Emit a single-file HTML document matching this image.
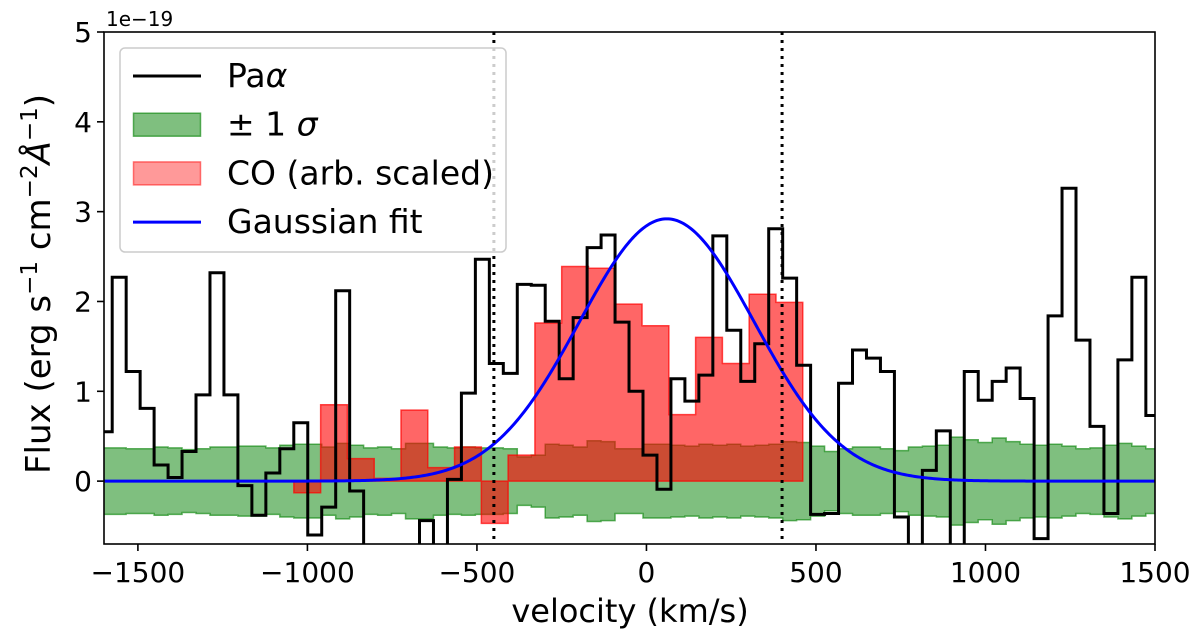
<!DOCTYPE html>
<html><head><meta charset="utf-8"><style>
html,body{margin:0;padding:0;background:#fff;}
svg{display:block;font-family:"DejaVu Sans","Liberation Sans",sans-serif;}
</style></head><body>
<svg id="chart" width="1200" height="644" viewBox="0 0 1200 644" xmlns="http://www.w3.org/2000/svg">
<defs><clipPath id="clip"><rect x="104" y="32" width="1051" height="512"/></clipPath></defs>
<g id="plot" clip-path="url(#clip)"></g>
<g id="axes"></g>
</svg>
<script>
// Data
const paBinStart = -1617;
const paBinWidth = 41.2;
const paValues = [0.55,2.27,1.22,0.81,0.18,0.04,0.33,0.96,2.32,0.96,-0.05,-0.38,0.09,0.36,0.65,-0.6,-0.29,2.12,-0.11,-0.9,-0.9,-0.9,-0.9,-0.44,-0.9,0.02,0.98,2.47,1.31,1.2,2.19,2.18,1.78,1.14,1.82,2.6,2.74,1.77,1.0,0.29,-0.09,1.14,0.89,1.18,2.73,1.68,1.11,1.53,2.81,2.26,1.29,-0.37,-0.36,1.09,1.46,1.37,1.22,-0.4,-0.9,0.12,0.56,-0.9,1.22,0.9,1.11,1.26,0.92,-0.64,1.84,3.26,1.57,0.61,-0.36,1.35,2.27,0.73];
const sigmaValues = [0.37,0.37,0.36,0.36,0.38,0.37,0.35,0.36,0.38,0.38,0.39,0.39,0.37,0.40,0.41,0.41,0.38,0.42,0.40,0.37,0.38,0.36,0.42,0.42,0.38,0.37,0.38,0.37,0.37,0.36,0.27,0.29,0.41,0.40,0.38,0.45,0.44,0.36,0.36,0.41,0.41,0.40,0.39,0.41,0.40,0.41,0.39,0.40,0.41,0.44,0.43,0.39,0.33,0.36,0.38,0.38,0.36,0.34,0.38,0.39,0.40,0.49,0.46,0.43,0.48,0.44,0.41,0.40,0.41,0.39,0.36,0.37,0.40,0.42,0.39,0.36];
const coBinStart = -1040;
const coBinWidth = 79;
const coValues = [-0.13,0.85,0.25,0.03,0.79,0.15,0.38,-0.47,0.29,1.76,2.39,2.37,1.97,1.73,0.74,1.6,1.31,2.08,1.99];
const gaussAmp = 2.92, gaussMu = 60, gaussSigma = 258;
const vLines = [-450, 400];
const xTicks = [-1500,-1000,-500,0,500,1000,1500];
const yTicks = [0,1,2,3,4,5];

const X0=104,X1=1155,Y0=544,Y1=32, XMIN=-1600,XMAX=1500,YMIN=-0.7,YMAX=5;
const xs=v=>X0+(v-XMIN)/(XMAX-XMIN)*(X1-X0);
const ys=v=>Y0-(v-YMIN)/(YMAX-YMIN)*(Y0-Y1);
const NS="http://www.w3.org/2000/svg";
function mk(tag,attrs,parent){const e=document.createElementNS(NS,tag);for(const k in attrs)e.setAttribute(k,attrs[k]);parent.appendChild(e);return e;}
const plot=document.getElementById('plot'), axes=document.getElementById('axes'), svg=document.getElementById('chart');

// sigma band
let up=[],lo=[];
sigmaValues.forEach((s,i)=>{const a=xs(paBinStart+i*paBinWidth),b=xs(paBinStart+(i+1)*paBinWidth);up.push(a+','+ys(s),b+','+ys(s));lo.unshift(b+','+ys(-s),a+','+ys(-s));});
const band=mk('polygon',{points:up.concat(lo).join(' '),fill:'rgba(0,128,0,0.5)',stroke:'rgba(0,128,0,0.6)','stroke-width':1.5},plot);



// CO histogram
let cp=[xs(coBinStart)+','+ys(0)];
coValues.forEach((v,i)=>{const a=xs(coBinStart+i*coBinWidth),b=xs(coBinStart+(i+1)*coBinWidth);cp.push(a+','+ys(v),b+','+ys(v));});
cp.push(xs(coBinStart+coValues.length*coBinWidth)+','+ys(0));
const co=mk('polygon',{points:cp.join(' '),fill:'rgba(255,0,0,0.6)',stroke:'rgba(255,0,0,0.7)','stroke-width':1.5},plot);



// Pa alpha step
let pp=[];
paValues.forEach((v,i)=>{const a=xs(paBinStart+i*paBinWidth),b=xs(paBinStart+(i+1)*paBinWidth);pp.push(a+','+ys(v),b+','+ys(v));});
const pa=mk('polyline',{points:pp.join(' '),fill:'none',stroke:'#000','stroke-width':3,'stroke-linejoin':'miter'},plot);



// gaussian
let gp=[];
for(let v=XMIN;v<=XMAX;v+=5){gp.push(xs(v)+','+ys(gaussAmp*Math.exp(-0.5*((v-gaussMu)/gaussSigma)**2)));}
const g=mk('polyline',{points:gp.join(' '),fill:'none',stroke:'#0000ff','stroke-width':3},plot);



// vlines
vLines.forEach(v=>{const l=mk('line',{x1:xs(v),x2:xs(v),y1:Y1,y2:Y0,stroke:'#000','stroke-width':3,'stroke-dasharray':'3,5'},plot);

});

// legend
const lg=mk('g',{},svg);


mk('rect',{x:120,y:48,width:386,height:204,rx:5,fill:'rgba(255,255,255,0.8)',stroke:'#ccc','stroke-width':1.5},lg);
const rows=[['Paα','line','#000'],['± 1 σ','patch','g'],['CO (arb. scaled)','patch','r'],['Gaussian fit','line','#00f']];
rows.forEach((r,i)=>{const cy=76+i*48.7;
 const e=mk('g',{},lg);
 
 
 if(r[1]==='line') mk('line',{x1:133,x2:201,y1:cy,y2:cy,stroke:r[2],'stroke-width':3},e);
 else mk('rect',{x:133.5,y:cy-11.5,width:67,height:23,fill:r[2]==='g'?'rgba(0,128,0,0.5)':'rgba(255,0,0,0.4)',stroke:r[2]==='g'?'rgba(0,128,0,0.6)':'rgba(255,0,0,0.5)','stroke-width':1.5},e);
 const t=mk('text',{x:227,y:cy+11,'font-size':33},e);
 if(i===0){t.textContent='Pa';const s=mk('tspan',{'font-style':'italic'},t);s.textContent='α';}
 else if(i===1){t.textContent='± 1 ';const s=mk('tspan',{'font-style':'italic'},t);s.textContent='σ';}
 else t.textContent=r[0];
});

// spines
const fr=mk('rect',{x:X0,y:Y1,width:X1-X0,height:Y0-Y1,fill:'none',stroke:'#000','stroke-width':1.6},axes);


xTicks.forEach(v=>{mk('line',{x1:xs(v),x2:xs(v),y1:Y0,y2:Y0+7,stroke:'#000','stroke-width':1.6},axes);
 const t=mk('text',{x:xs(v),y:Y0+38,'font-size':28,'text-anchor':'middle'},axes);
 
 
 t.textContent=v<0?'−'+(-v):String(v);});
yTicks.forEach(v=>{mk('line',{x1:X0-7,x2:X0,y1:ys(v),y2:ys(v),stroke:'#000','stroke-width':1.6},axes);
 const t=mk('text',{x:X0-12,y:ys(v)+10,'font-size':28,'text-anchor':'end'},axes);
 
 
 t.textContent=String(v);});
</script>
<svg style="position:absolute;left:0;top:0" width="1200" height="644">
<text x="106" y="26" font-size="20" font-family="DejaVu Sans, sans-serif">1e−19</text>
<text x="630" y="622" font-size="32" text-anchor="middle" font-family="DejaVu Sans, sans-serif">velocity (km/s)</text>
<text transform="translate(50,284) rotate(-90)" font-size="34" text-anchor="middle" font-family="DejaVu Sans, sans-serif">Flux (erg s<tspan dy="-13" font-size="23">−1</tspan><tspan dy="13"> cm</tspan><tspan dy="-13" font-size="23">−2</tspan><tspan dy="13" font-style="italic">Å</tspan><tspan dy="-13" font-size="23">−1</tspan><tspan dy="13">)</tspan></text>
</svg>
</body></html>
